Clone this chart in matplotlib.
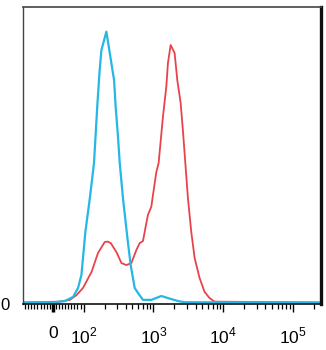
import numpy as np
import matplotlib
matplotlib.use("Agg")
import matplotlib.pyplot as plt
from matplotlib.ticker import FixedLocator, NullFormatter

# cyan histogram (isotype / unstained)
cyan_x = [-97, 6.5, 39, 66, 82, 93, 106, 123, 141, 158, 170, 180, 212, 237, 273,
          288, 311, 329, 366, 424, 472, 539, 601, 708, 933, 1297, 1611, 2240,
          2790, 250000]
cyan_y = [0.5, 0.6, 1.0, 2.4, 5.4, 9.8, 24.2, 35.7, 47.5, 67.7, 78.8, 85.5, 91.7,
          84.5, 75.4, 66.3, 56.2, 47.5, 35.7, 22.2, 13.1, 5.4, 3.7, 1.4, 1.4,
          2.7, 2.0, 1.0, 0.6, 0.5]

# red histogram (stained)
red_x = [-97, 22.7, 55, 77, 98, 130, 161, 201, 222, 245, 295, 348, 410, 483, 570,
         635, 708, 792, 834, 933, 984, 1099, 1186, 1368, 1528, 1611, 1762, 2009,
         2193, 2449, 2636, 2858, 3112, 3475, 3882, 4571, 5383, 6353, 7482, 250000]
red_y = [0.5, 0.8, 1.35, 3.0, 5.4, 10.8, 17.2, 20.9, 21.0, 20.5, 17.5, 13.8, 13.1,
         13.8, 18.2, 20.5, 21.2, 27.3, 30.0, 32.8, 36.7, 44.4, 47.5, 63.1, 73.2,
         81.1, 87.2, 84.5, 75.4, 67.7, 58.6, 47.5, 35.7, 24.3, 15.5, 8.75, 4.1,
         2.0, 0.8, 0.5]

major_ticks = [0, 1e2, 1e3, 1e4, 1e5]
major_labels = ["0", "$10^2$", "$10^3$", "$10^4$", "$10^5$"]
minor_ticks = ([-v for v in range(10, 100, 10)] + list(range(10, 100, 10))
               + [k * 10 ** e for e in (2, 3, 4) for k in range(2, 10)] + [2e5])

plt.rcParams['font.family'] = ['Liberation Sans', 'DejaVu Sans']
plt.rcParams['mathtext.fontset'] = 'custom'
plt.rcParams['mathtext.rm'] = 'Liberation Sans'

fig = plt.figure(figsize=(3.26, 3.5), dpi=100)
ax = fig.add_axes([0.0706, 0.1314, 0.9141, 0.8486])

ax.plot(red_x, red_y, color="#e8434a", lw=1.3)
ax.plot(cyan_x, cyan_y, color="#25b7e6", lw=1.6)

ax.set_xscale('symlog', linthresh=100, linscale=0.396)
ax.set_xlim(-97, 250000)
ax.set_ylim(0, 100)

ax.xaxis.set_major_locator(FixedLocator(major_ticks))
ax.set_xticklabels(major_labels)
ax.xaxis.set_minor_locator(FixedLocator(minor_ticks))
ax.xaxis.set_minor_formatter(NullFormatter())
ax.tick_params(axis='x', which='major', length=6, width=1, pad=10,
               labelsize=12.5, direction='out')
ax.tick_params(axis='x', which='minor', length=3.5, width=0.9, direction='out')

# the zero tick is drawn heavier
ax.get_xticklines()[0].set_markeredgewidth(2.5)

ax.set_yticks([0])
ax.set_yticklabels(["0"])
ax.tick_params(axis='y', length=0, pad=10, labelsize=12)

for side, lw, col in [("left", 1.0, "#444444"), ("top", 1.2, "#444444"),
                      ("right", 2.4, "#111111"), ("bottom", 1.2, "#111111")]:
    ax.spines[side].set_linewidth(lw)
    ax.spines[side].set_color(col)

fig.savefig("out.png", dpi=100)
